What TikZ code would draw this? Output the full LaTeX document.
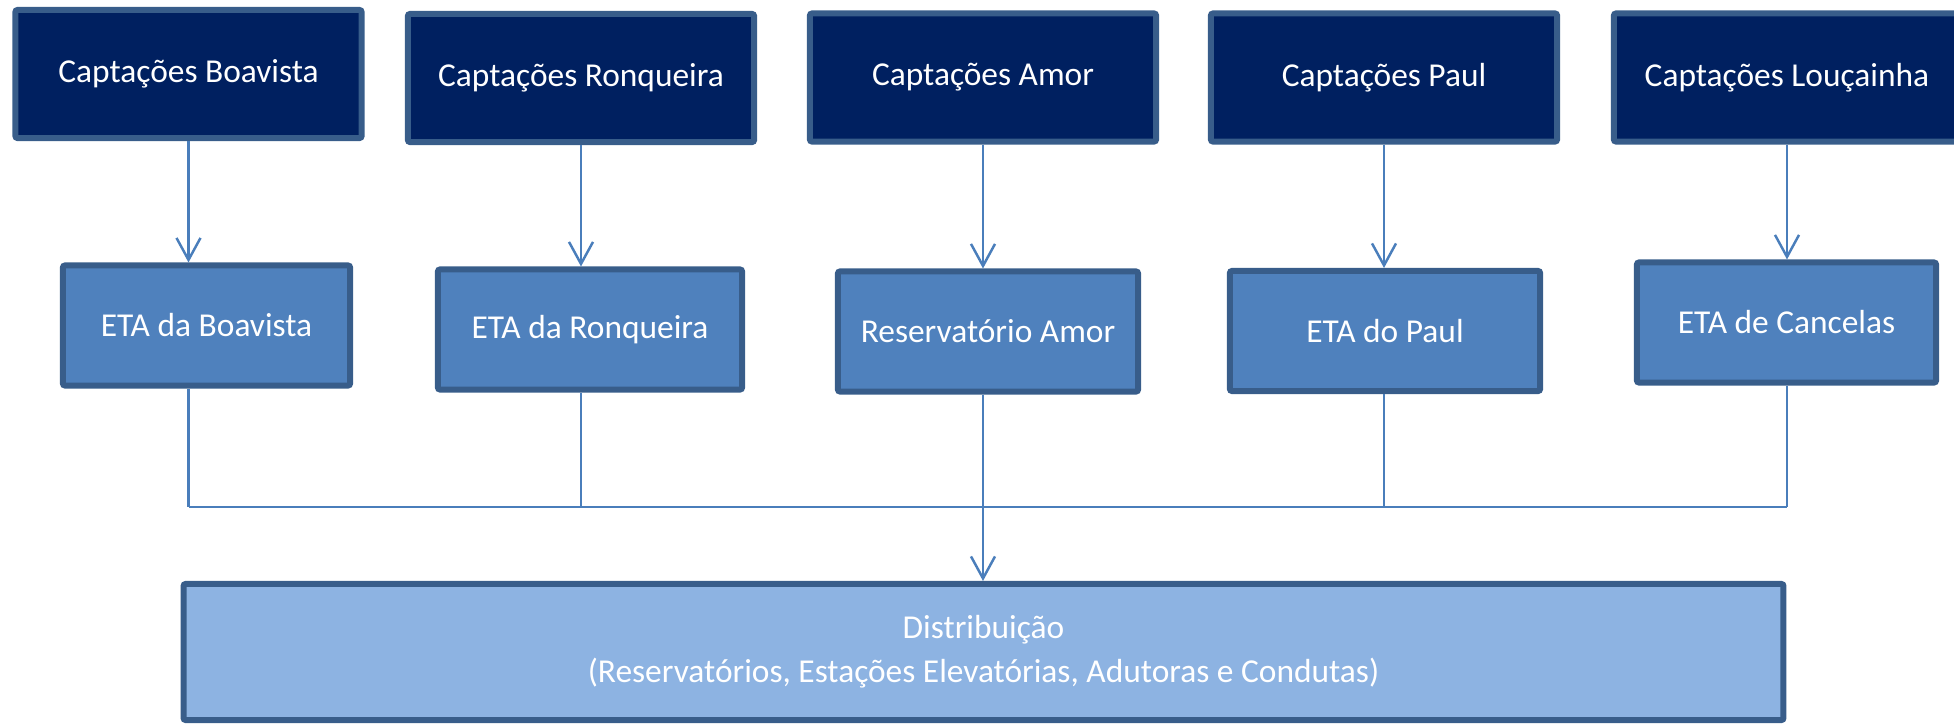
\documentclass[tikz,border=0pt]{standalone}
\usepackage{fontspec}
\setmainfont{Carlito}
\usetikzlibrary{arrows.meta}

\definecolor{captfill}{HTML}{002060}
\definecolor{etafill}{HTML}{4F81BD}
\definecolor{distfill}{HTML}{8DB3E2}
\definecolor{boxline}{HTML}{385D8A}
\definecolor{connline}{HTML}{4A7EBB}

\begin{document}
\begin{tikzpicture}
                    [
                        x=0.01cm, y=-0.01cm,
                        every node/.style={draw=boxline, line width=1.7pt, rounded corners=0.6pt, text=white, inner sep=0pt, font=\fontsize{9.5}{12.5}\selectfont},
                        captbox/.style={fill=captfill, minimum width=3.46cm, minimum height=1.28cm},
                        etabox/.style={fill=etafill, minimum height=1.2cm},
                        distbox/.style={fill=distfill, minimum width=15.99cm, minimum height=1.36cm, align=center},
                        conn/.style={draw=connline, line width=0.7pt},
                        >={Straight Barb[length=2.2mm,width=2.4mm]}
                    ]
                    
                    % Rahmen
                    \useasboundingbox (0,0) rectangle (1954,724);
                    
                    % Captacoes
                    \node[captbox] (capt1) at (188.5,74) {Captações Boavista};
                    \node[captbox] (capt2) at (581,78) {Captações Ronqueira};
                    \node[captbox] (capt3) at (983,77.5) {Captações Amor};
                    \node[captbox] (capt4) at (1384,77.5) {Captações Paul};
                    \node[captbox] (capt5) at (1787,77.5) {Captações Louçainha};
                    
                    % Tratamento
                    \node[etabox, minimum width=2.87cm] (eta1) at (206.5,325.5) {ETA da Boavista};
                    \node[etabox, minimum width=3.04cm] (eta2) at (590,329.5) {ETA da Ronqueira};
                    \node[etabox, minimum width=3.00cm] (eta3) at (988,331.5) {Reservatório Amor};
                    \node[etabox, minimum width=3.10cm] (eta4) at (1385,331) {ETA do Paul};
                    \node[etabox, minimum width=2.99cm] (eta5) at (1786.5,322.5) {ETA de Cancelas};
                    
                    \node[distbox] (dist) at (983.5,652) {Distribuição\\(Reservatórios, Estações Elevatórias, Adutoras e Condutas)};
                    
                    \coordinate (bus) at (0,507);
                    
                    \foreach \i in {1,...,5}
                        \draw[conn,->] (capt\i.south) -- (capt\i.south |- eta\i.north);
                    \foreach \i in {1,2,4,5}
                        \draw[conn] (capt\i.south |- eta\i.south) -- (capt\i.south |- bus);
                    \draw[conn] (capt1.south |- bus) -- (capt5.south |- bus);
                    \draw[conn,->] (capt3.south |- eta3.south) -- (capt3.south |- dist.north);
                \end{tikzpicture}
\end{document}
